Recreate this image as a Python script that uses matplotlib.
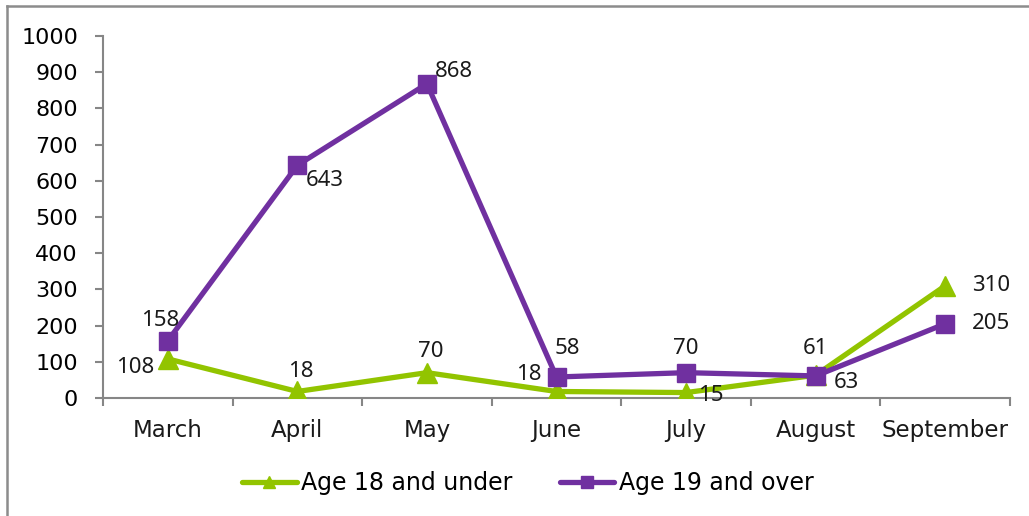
import matplotlib

matplotlib.use("Agg")
import matplotlib.pyplot as plt
from matplotlib.lines import Line2D

# Data
months = ["March", "April", "May", "June", "July", "August", "September"]
under_18 = [108, 18, 70, 18, 15, 63, 310]
over_19 = [158, 643, 868, 58, 70, 61, 205]
yticks = list(range(0, 1001, 100))

# label offsets in pixels (dx, dy) relative to each point
under_18_offsets = [(-33, -9), (3, 20), (4, 21), (-28, 17), (25, -3), (31, -7), (46, 0)]
over_19_offsets = [(-8, 20), (27, -15), (27, 12), (11, 29), (0, 24), (0, 27), (46, 0)]

GREEN = "#92C400"
PURPLE = "#7030A0"
AXIS = "#868686"

fig = plt.figure(figsize=(10.29, 5.16), dpi=100)
W, H = 1029, 516
ax = fig.add_axes([103 / W, 1 - 398 / H, 907 / W, 362 / H])

x = list(range(len(months)))
ax.plot(x, under_18, color=GREEN, lw=3.8, marker="^", ms=14, mec=GREEN,
        label="Age 18 and under", solid_capstyle="round", zorder=3)
ax.plot(x, over_19, color=PURPLE, lw=3.8, marker="s", ms=13.5, mec=PURPLE,
        label="Age 19 and over", solid_capstyle="round", zorder=4)

for xi, v, off in zip(x, under_18, under_18_offsets):
    ax.annotate(str(v), (xi, v), xytext=off, textcoords="offset pixels",
                ha="center", va="center", fontsize=16, family="Noto Sans",
                color="#1a1a1a", zorder=5)
for xi, v, off in zip(x, over_19, over_19_offsets):
    ax.annotate(str(v), (xi, v), xytext=off, textcoords="offset pixels",
                ha="center", va="center", fontsize=16, family="Noto Sans",
                color="#1a1a1a", zorder=5)

ax.set_xlim(-0.5, len(months) - 0.5)
ax.set_ylim(0, 1000)
ax.set_yticks(yticks)
ax.set_yticklabels([str(t) for t in yticks])
ax.set_xticks(x)
ax.set_xticklabels(months)
ax.set_xticks([i - 0.5 for i in range(len(months) + 1)], minor=True)

for s in ["top", "right"]:
    ax.spines[s].set_visible(False)
for s in ["left", "bottom"]:
    ax.spines[s].set_color(AXIS)
    ax.spines[s].set_linewidth(1.5)

ax.tick_params(axis="y", length=6, width=1.5, color=AXIS, pad=12,
               labelsize=16, labelcolor="black")
ax.tick_params(axis="x", which="major", length=0, pad=15,
               labelsize=16.5, labelcolor="#1a1a1a")
ax.tick_params(axis="x", which="minor", length=6, width=1.5, color=AXIS)

handles = [
    Line2D([], [], color=GREEN, lw=3.8, marker="^", ms=9, solid_capstyle="round"),
    Line2D([], [], color=PURPLE, lw=3.8, marker="s", ms=9, solid_capstyle="round"),
]
fig.legend(handles, ["Age 18 and under", "Age 19 and over"], loc="center",
           bbox_to_anchor=(528 / W, 1 - 483 / H), ncol=2, frameon=False,
           fontsize=17, handlelength=2.3, handletextpad=0.2, columnspacing=2.0)

# chart border (only top and left edges fall inside the image)
fig.add_artist(Line2D([7 / W, 1], [1 - 6 / H, 1 - 6 / H], color="#8c8c8c", lw=1.8,
                      transform=fig.transFigure))
fig.add_artist(Line2D([7 / W, 7 / W], [0, 1 - 6 / H], color="#8c8c8c", lw=1.8,
                      transform=fig.transFigure))

fig.savefig("out.png", dpi=100)
